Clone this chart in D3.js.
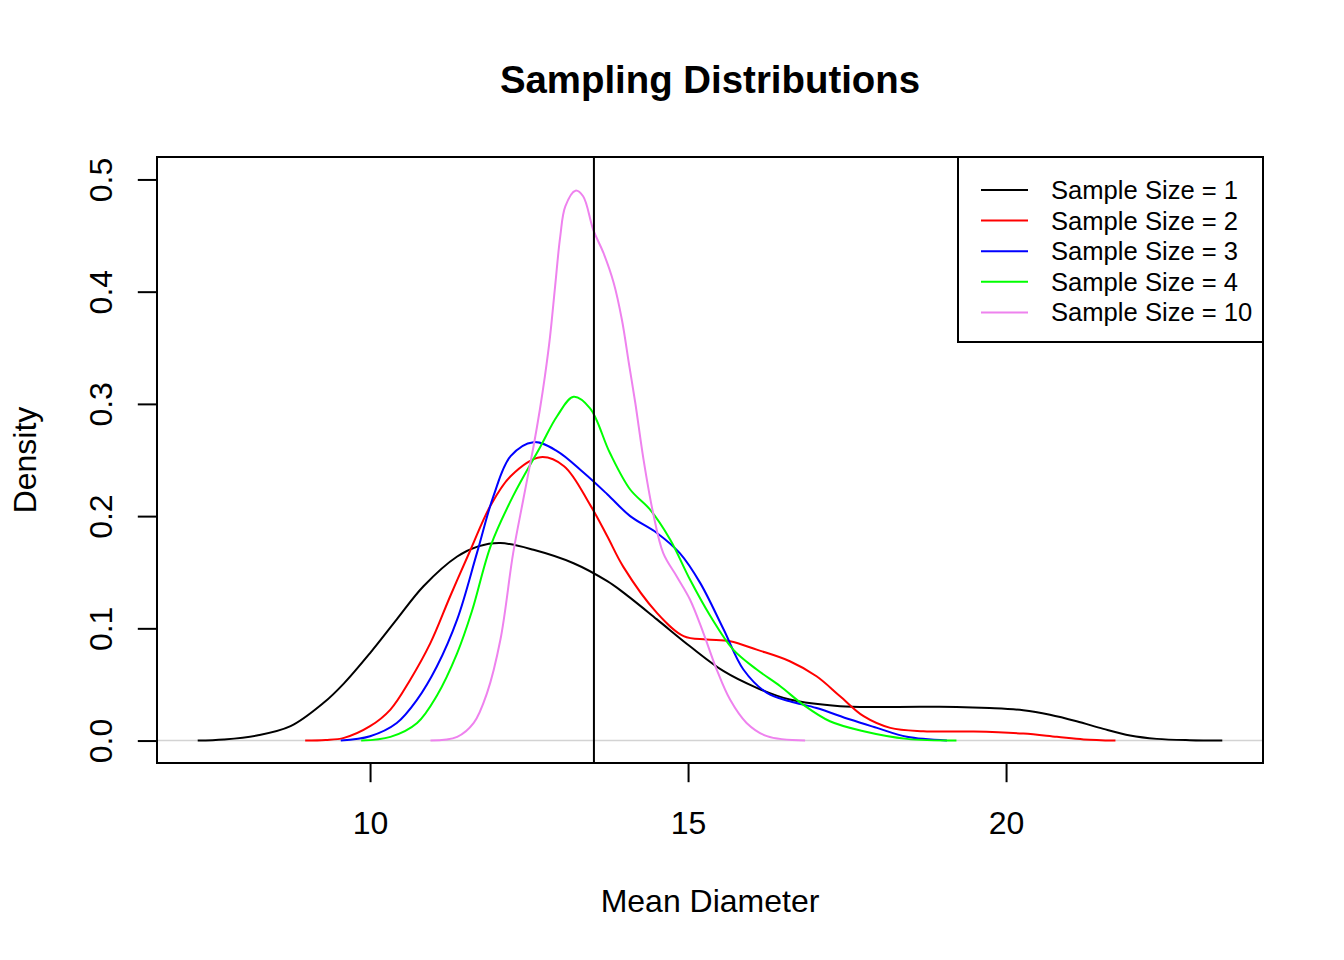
<!DOCTYPE html>
<html>
<head>
<meta charset="utf-8">
<script src="https://cdn.jsdelivr.net/npm/d3@7"></script>
<style>
  body { margin: 0; background: #fff; }
  svg text { font-family: "Liberation Sans", Arial, Helvetica, sans-serif; fill: #000; }
</style>
</head>
<body>
<svg id="chart" width="1344" height="960"></svg>
<script>
// density estimates, [mean diameter, density]
const density1 = [
  [7.29, 0], [7.7, 0.001], [8.22, 0.0045], [8.75, 0.0128], [9.27, 0.0336], [9.59, 0.051],
  [10.0, 0.078], [10.42, 0.108], [10.84, 0.1375], [11.37, 0.164], [11.7, 0.173], [12.05, 0.176],
  [12.57, 0.170], [13.2, 0.158], [13.73, 0.142], [13.98, 0.132], [14.51, 0.108], [15.03, 0.084],
  [15.56, 0.0618], [16.08, 0.047], [16.6, 0.0365], [17.39, 0.0306], [18.18, 0.030], [19.22, 0.030],
  [19.74, 0.029], [20.27, 0.027], [20.69, 0.023], [21.11, 0.0172], [21.53, 0.0104], [21.95, 0.0045],
  [22.37, 0.0015], [22.89, 0.0003], [23.4, 0]
];
const density2 = [
  [8.98, 0], [9.3, 0.0005], [9.59, 0.0024], [10.0, 0.0128], [10.32, 0.0276], [10.63, 0.054],
  [10.95, 0.087], [11.26, 0.1286], [11.58, 0.170], [11.89, 0.209], [12.21, 0.2356], [12.68, 0.2525],
  [13.05, 0.2445], [13.46, 0.210], [13.73, 0.182], [13.98, 0.155], [14.51, 0.1138], [14.93, 0.093],
  [15.29, 0.090], [15.66, 0.0885], [16.08, 0.081], [16.6, 0.0707], [17.02, 0.0573], [17.39, 0.0395],
  [17.76, 0.0217], [18.18, 0.0113], [18.7, 0.0083], [19.49, 0.0080], [20.27, 0.0062], [20.8, 0.0033],
  [21.22, 0.001], [21.72, 0]
];
const density3 = [
  [9.54, 0], [10.0, 0.0039], [10.42, 0.0157], [10.74, 0.0365], [11.05, 0.066], [11.37, 0.108],
  [11.68, 0.167], [11.94, 0.2178], [12.21, 0.2534], [12.57, 0.2659], [12.94, 0.258], [13.36, 0.2386],
  [13.73, 0.2195], [14.09, 0.200], [14.51, 0.185], [14.87, 0.167], [15.19, 0.1405], [15.56, 0.0989],
  [15.87, 0.0633], [16.24, 0.0425], [16.6, 0.035], [17.02, 0.029], [17.55, 0.0187], [17.97, 0.0113],
  [18.44, 0.0033], [19.07, 0]
];
const density4 = [
  [9.86, 0], [10.32, 0.0033], [10.74, 0.0157], [11.05, 0.040], [11.37, 0.078], [11.6, 0.115],
  [11.9, 0.174], [12.25, 0.218], [12.68, 0.262], [12.94, 0.289], [13.2, 0.3063], [13.46, 0.296],
  [13.77, 0.2564], [14.09, 0.2237], [14.4, 0.206], [14.72, 0.179], [15.03, 0.1435], [15.35, 0.111],
  [15.71, 0.081], [16.08, 0.0633], [16.45, 0.0484], [16.81, 0.032], [17.23, 0.0172], [17.76, 0.0083],
  [18.44, 0.0015], [19.22, 0]
];
const density10 = [
  [10.95, 0], [11.37, 0.0033], [11.63, 0.0157], [11.84, 0.0425], [12.05, 0.09], [12.25, 0.167],
  [12.41, 0.215], [12.57, 0.262], [12.67, 0.295], [12.75, 0.325], [12.83, 0.36], [12.91, 0.405],
  [12.99, 0.449], [13.07, 0.476], [13.23, 0.490], [13.35, 0.485], [13.51, 0.455], [13.67, 0.4345],
  [13.83, 0.408], [13.96, 0.375], [14.07, 0.336], [14.17, 0.301], [14.3, 0.2504], [14.45, 0.203],
  [14.61, 0.167], [14.82, 0.1464], [15.03, 0.1257], [15.24, 0.096], [15.45, 0.0633], [15.66, 0.0365],
  [15.92, 0.0157], [16.24, 0.0039], [16.84, 0]
];

const seriesLabels = ["Sample Size = 1", "Sample Size = 2", "Sample Size = 3", "Sample Size = 4", "Sample Size = 10"];
const xTicks = [10, 15, 20];
const yTicks = [0, 0.1, 0.2, 0.3, 0.4, 0.5];
const populationMean = 13.52;

const colors = ["#000000", "#ff0000", "#0000ff", "#00ff00", "#ee82ee"];
const series = [density1, density2, density3, density4, density10];

const svg = d3.select("#chart");
const width = +svg.attr("width");
const height = +svg.attr("height");

// R default margins at 192 dpi: one line = 38.4px
const lineH = 38.4;
const margin = {top: 157, right: 81, bottom: 197, left: 157};
const plotLeft = margin.left, plotRight = width - margin.right;
const plotTop = margin.top, plotBottom = height - margin.bottom;

const x = d3.scaleLinear().domain([6.65, 24.04]).range([plotLeft, plotRight]);
const y = d3.scaleLinear().domain([-0.02, 0.52]).range([plotBottom, plotTop]);

// zero line
svg.append("line")
  .attr("x1", plotLeft).attr("x2", plotRight)
  .attr("y1", y(0)).attr("y2", y(0))
  .attr("stroke", "#d3d3d3").attr("stroke-width", 1.5);

// smooth through the read points, never below zero
const line = d3.line()
  .x(d => x(d[0]))
  .y(d => Math.min(y(d[1]), y(0)))
  .curve(d3.curveCatmullRom.alpha(0.5));

svg.append("g")
  .selectAll("path")
  .data(series)
  .enter()
  .append("path")
  .attr("d", line)
  .attr("fill", "none")
  .attr("stroke", (d, i) => colors[i])
  .attr("stroke-width", 2);

// mean line
svg.append("line")
  .attr("x1", x(populationMean)).attr("x2", x(populationMean))
  .attr("y1", plotTop).attr("y2", plotBottom)
  .attr("stroke", "#000").attr("stroke-width", 2);

// box
svg.append("rect")
  .attr("x", plotLeft).attr("y", plotTop)
  .attr("width", plotRight - plotLeft).attr("height", plotBottom - plotTop)
  .attr("fill", "none").attr("stroke", "#000").attr("stroke-width", 2);

// axes
const xAxis = svg.append("g")
  .attr("transform", `translate(0,${plotBottom})`)
  .call(d3.axisBottom(x).tickValues(xTicks).tickSize(lineH / 2).tickPadding(29));
xAxis.select(".domain").remove();
xAxis.selectAll("line").attr("stroke", "#000").attr("stroke-width", 2);
xAxis.selectAll("text").style("font-size", "32px").attr("fill", "#000");

const yAxis = svg.append("g")
  .attr("transform", `translate(${plotLeft},0)`)
  .call(d3.axisLeft(y).tickValues(yTicks).tickFormat(d3.format(".1f")).tickSize(lineH / 2));
yAxis.select(".domain").remove();
yAxis.selectAll("line").attr("stroke", "#000").attr("stroke-width", 2);
yAxis.selectAll("text")
  .style("font-size", "32px")
  .attr("fill", "#000")
  .attr("x", null).attr("dy", null)
  .attr("text-anchor", "middle")
  .attr("transform", "translate(-45,0) rotate(-90)");

// titles
svg.append("text")
  .attr("x", (plotLeft + plotRight) / 2).attr("y", 93)
  .attr("text-anchor", "middle")
  .style("font-size", "38.4px").style("font-weight", "bold")
  .text("Sampling Distributions");

svg.append("text")
  .attr("x", (plotLeft + plotRight) / 2).attr("y", 912)
  .attr("text-anchor", "middle")
  .style("font-size", "32px")
  .text("Mean Diameter");

svg.append("text")
  .attr("transform", `translate(36,${(plotTop + plotBottom) / 2}) rotate(-90)`)
  .attr("text-anchor", "middle")
  .style("font-size", "32px")
  .text("Density");

// legend, top right
const legW = 305, legH = 185;
const legend = svg.append("g").attr("transform", `translate(${plotRight - legW},${plotTop})`);
legend.append("rect")
  .attr("width", legW).attr("height", legH)
  .attr("fill", "#fff").attr("stroke", "#000").attr("stroke-width", 2);

const rows = legend.selectAll("g.row")
  .data(seriesLabels)
  .enter()
  .append("g")
  .attr("class", "row")
  .attr("transform", (d, i) => `translate(0,${33 + i * 30.6})`);

rows.append("line")
  .attr("x1", 23).attr("x2", 70)
  .attr("stroke", (d, i) => colors[i]).attr("stroke-width", 2);

rows.append("text")
  .attr("x", 93).attr("y", 9)
  .style("font-size", "25.6px")
  .text(d => d);
</script>
</body>
</html>
